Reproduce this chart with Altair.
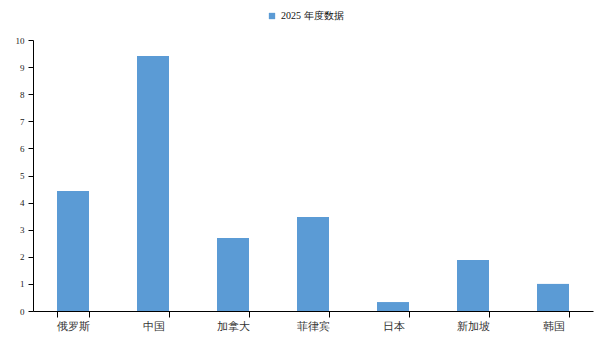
import altair as alt
import pandas as pd

categories = ["俄罗斯", "中国", "加拿大", "菲律宾", "日本", "新加坡", "韩国"]
values = [4.43, 9.41, 2.69, 3.47, 0.33, 1.88, 1.0]
series_name = "2025 年度数据"

df = pd.DataFrame({"category": categories, "value": values, "series": [series_name] * len(categories)})

font = "Liberation Serif"

chart = alt.Chart(df).mark_bar(color="#5b9bd5").encode(
    x=alt.X("category:N", sort=categories, title=None,
            scale=alt.Scale(paddingInner=0.6, paddingOuter=0.3),
            axis=alt.Axis(labelAngle=0, tickBand="extent", domainColor="black", tickColor="black",
                          tickSize=6, labelFontSize=11, labelColor="#333333", labelPadding=3,
                          labelFont=font, grid=False)),
    y=alt.Y("value:Q", title=None,
            scale=alt.Scale(domain=[0, 10], nice=False),
            axis=alt.Axis(values=list(range(0, 11)), domainColor="black", tickColor="black",
                          tickSize=5, labelFontSize=9, labelColor="#222222", labelFont=font,
                          labelPadding=4, grid=False)),
    color=alt.Color("series:N", scale=alt.Scale(range=["#5b9bd5"]),
                    legend=alt.Legend(title=None, orient="none", legendX=234, legendY=-29,
                                      symbolType="square", symbolSize=40, labelFontSize=10,
                                      labelFont=font, labelColor="#111111", symbolOpacity=1)),
).properties(
    width=560, height=271,
    background="white",
    padding={"left": 33, "top": 40, "right": 13, "bottom": 30},
    autosize=alt.AutoSizeParams(type="none"),
).configure_view(stroke=None, strokeWidth=0)

chart.save("out.html", embed_options={"renderer": "svg", "actions": False})
